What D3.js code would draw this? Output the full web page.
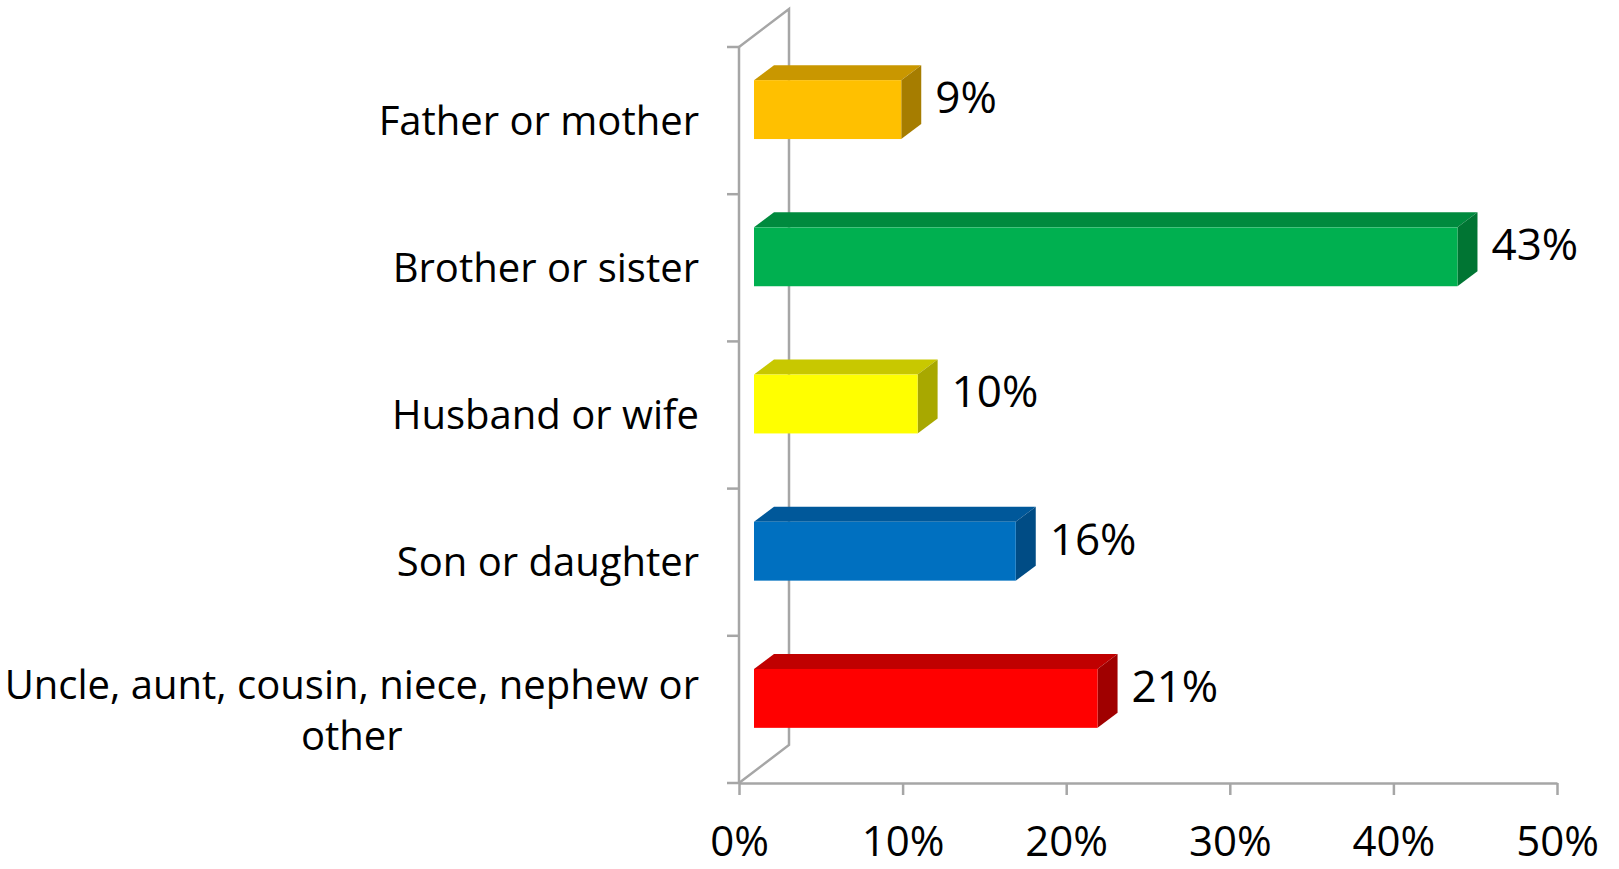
<!DOCTYPE html>
<html>
<head>
<meta charset="utf-8">
<script src="https://cdnjs.cloudflare.com/ajax/libs/d3/7.8.5/d3.min.js"></script>
<style>
  body { margin: 0; background: #fff; }
  svg text { font-family: "Open Sans", sans-serif; fill: #000; }
</style>
</head>
<body>
<svg id="chart"></svg>
<script>
// data
var categories = ["Father or mother", "Brother or sister", "Husband or wife",
                  "Son or daughter", "Uncle, aunt, cousin, niece, nephew or other"];
var values = [0.09, 0.43, 0.10, 0.16, 0.21];
var valueLabels = ["9%", "43%", "10%", "16%", "21%"];
var tickValues = [0, 0.1, 0.2, 0.3, 0.4, 0.5];
var tickLabels = ["0%", "10%", "20%", "30%", "40%", "50%"];
var frontColors = ["#FFC000", "#00B050", "#FFFF00", "#0070C0", "#FF0000"];
var topColors   = ["#C99700", "#008A3E", "#C8C800", "#00589A", "#C00000"];
var sideColors  = ["#A67D00", "#007533", "#A8A800", "#004C85", "#A00000"];

var width = 1619, height = 869;
var margin = {top: 47, bottom: 86, left: 739, right: 62};
var wall = {dx: 50, dy: -38};      // depth of the 3d frame
var barOff = {dx: 15, dy: -11};    // bar front face offset into the depth
var barDepth = {dx: 20, dy: -15};

var svg = d3.select('#chart')
    .attr('width', width)
    .attr('height', height);

var xScale = d3.scaleLinear()
    .domain([0, 0.5])
    .range([margin.left, width - margin.right]);

var yScale = d3.scaleBand()
    .domain(categories)
    .range([margin.top, height - margin.bottom])
    .padding(0);

var axisColor = "#A6A6A6";
var y0 = height - margin.bottom;

// back wall + floor/side edges
var frame = svg.append("g")
    .attr("fill", "none")
    .attr("stroke", axisColor)
    .attr("stroke-width", 2.5);

frame.append("path")
    .attr("d", "M" + margin.left + "," + margin.top +
        "L" + (margin.left + wall.dx) + "," + (margin.top + wall.dy) +
        "L" + (margin.left + wall.dx) + "," + (y0 + wall.dy) +
        "L" + margin.left + "," + y0);

// left (category) axis line + ticks at band edges
frame.append("line")
    .attr("x1", margin.left).attr("x2", margin.left)
    .attr("y1", margin.top).attr("y2", y0);

var bounds = categories.map(function (c) { return yScale(c); });
bounds.push(y0);
frame.selectAll(".ytick")
    .data(bounds)
    .enter().append("line")
    .attr("class", "ytick")
    .attr("x1", margin.left - 12).attr("x2", margin.left)
    .attr("y1", function (d) { return d; })
    .attr("y2", function (d) { return d; });

// bottom axis
var xAxis = d3.axisBottom(xScale)
    .tickValues(tickValues)
    .tickFormat(function (d, i) { return tickLabels[i]; })
    .tickSize(12)
    .tickSizeOuter(0)
    .tickPadding(31);

svg.append("g")
    .attr("transform", "translate(0," + y0 + ")")
    .call(xAxis)
    .call(function (g) {
        g.select(".domain").attr("stroke", axisColor).attr("stroke-width", 2.5);
        g.selectAll(".tick line").attr("stroke", axisColor).attr("stroke-width", 2.5);
        g.selectAll(".tick text")
            .style("font-size", "42px")
            .attr("fill", "#000");
    });

// 3d bars
var bh = yScale.bandwidth() * 0.4;
var bars = svg.selectAll(".bar")
    .data(values)
    .enter().append("g")
    .attr("class", "bar");

function frontY(d, i) {
    return yScale(categories[i]) + yScale.bandwidth() / 2 - bh / 2 + barOff.dy;
}

bars.append("path")   // top face
    .attr("fill", function (d, i) { return topColors[i]; })
    .attr("d", function (d, i) {
        var xa = xScale(0) + barOff.dx, xb = xScale(d) + barOff.dx, y = frontY(d, i);
        return "M" + xa + "," + y + "L" + (xa + barDepth.dx) + "," + (y + barDepth.dy) +
            "L" + (xb + barDepth.dx) + "," + (y + barDepth.dy) + "L" + xb + "," + y + "Z";
    });

bars.append("path")   // side face
    .attr("fill", function (d, i) { return sideColors[i]; })
    .attr("d", function (d, i) {
        var xb = xScale(d) + barOff.dx, y = frontY(d, i);
        return "M" + xb + "," + y + "L" + (xb + barDepth.dx) + "," + (y + barDepth.dy) +
            "L" + (xb + barDepth.dx) + "," + (y + bh + barDepth.dy) + "L" + xb + "," + (y + bh) + "Z";
    });

bars.append("rect")   // front face
    .attr("x", xScale(0) + barOff.dx)
    .attr("y", frontY)
    .attr("width", function (d) { return xScale(d) - xScale(0); })
    .attr("height", bh)
    .attr("fill", function (d, i) { return frontColors[i]; });

// value labels
svg.selectAll(".vlabel")
    .data(values)
    .enter().append("text")
    .attr("class", "vlabel")
    .attr("x", function (d) { return xScale(d) + barOff.dx + barDepth.dx + 14; })
    .attr("y", function (d, i) { return frontY(d, i) + bh / 2 - 12; })
    .attr("dy", "0.35em")
    .style("font-size", "44px")
    .text(function (d, i) { return valueLabels[i]; });

// category labels (wrap the long one onto two centred lines)
var labelX = margin.left - 40;
categories.forEach(function (c) {
    var cy = yScale(c) + yScale.bandwidth() / 2;
    var t = svg.append("text")
        .style("font-size", "40px")
        .attr("text-anchor", "end")
        .attr("x", labelX)
        .attr("y", cy)
        .attr("dy", "0.35em")
        .text(c);
    if (t.node().getComputedTextLength() > labelX - 5) {
        var words = c.split(" ");
        var line2 = words.pop();
        t.text(words.join(" "));
        var w = t.node().getComputedTextLength();
        t.attr("text-anchor", "middle")
            .attr("x", labelX - w / 2)
            .attr("y", cy - 24);
        svg.append("text")
            .style("font-size", "40px")
            .attr("text-anchor", "middle")
            .attr("x", labelX - w / 2)
            .attr("y", cy + 27)
            .attr("dy", "0.35em")
            .text(line2);
    }
});
</script>
</body>
</html>
